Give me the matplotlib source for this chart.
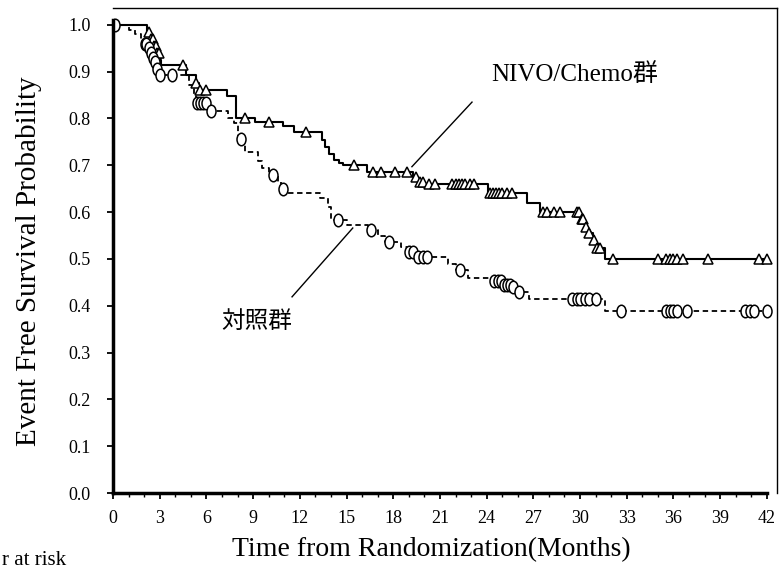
import numpy as np
import matplotlib
matplotlib.use("Agg")
import matplotlib.pyplot as plt
from matplotlib.path import Path
from matplotlib.transforms import Affine2D

plt.rcParams['font.family'] = ['Liberation Serif', 'Noto Sans CJK JP']

# Kaplan-Meier step points (time in months, survival)
nivo_t = [0, 2.2, 2.4, 2.6, 2.8, 3.0, 3.1, 4.7, 5.3, 5.5, 5.9, 7.3, 7.9, 9.1, 10.9, 11.6,
          13.4, 13.6, 13.9, 14.2, 14.5, 14.8, 16.3, 19.3, 19.6, 20.0, 24.1, 26.6, 27.4,
          30.0, 30.3, 30.5, 30.8, 31.0, 31.6]
nivo_s = [1.0, 0.985, 0.97, 0.955, 0.94, 0.925, 0.915, 0.893, 0.876, 0.861, 0.861, 0.848,
          0.80, 0.793, 0.785, 0.771, 0.755, 0.74, 0.725, 0.711, 0.705, 0.70, 0.686, 0.675,
          0.665, 0.66, 0.641, 0.62, 0.60, 0.585, 0.568, 0.555, 0.54, 0.523, 0.50]
nivo_cens = [2.3, 2.45, 2.55, 2.65, 2.75, 2.85, 2.95, 4.5, 5.3, 5.6, 6.0, 8.5, 10.0, 12.4,
             15.5, 16.7, 17.2, 18.1, 18.9, 19.45, 19.7, 19.9, 20.3, 20.7, 21.8, 22.0, 22.2,
             22.4, 22.6, 22.9, 23.2, 24.2, 24.4, 24.6, 24.8, 25.0, 25.3, 25.6, 27.6, 27.9,
             28.3, 28.7, 29.8, 29.95, 30.1, 30.2, 30.4, 30.6, 30.9, 31.1, 31.3, 32.1, 35.0,
             35.5, 35.8, 36.0, 36.2, 36.6, 38.2, 41.5, 42.0]

ctrl_t = [0, 1.0, 1.4, 1.8, 2.0, 2.2, 2.35, 2.5, 2.65, 2.8, 3.0, 4.9, 5.2, 5.3, 6.1, 7.4,
          7.8, 8.0, 8.5, 9.3, 9.6, 10.0, 10.6, 10.8, 11.2, 13.3, 13.8, 14.0, 15.0, 16.4,
          17.0, 17.5, 18.5, 18.9, 19.6, 21.5, 22.0, 22.8, 24.5, 25.0, 25.6, 26.0, 26.7, 31.6]
ctrl_s = [1.0, 0.99, 0.98, 0.97, 0.96, 0.95, 0.94, 0.93, 0.92, 0.905, 0.893, 0.872, 0.85,
          0.833, 0.816, 0.80, 0.79, 0.757, 0.728, 0.71, 0.695, 0.68, 0.665, 0.65, 0.641,
          0.63, 0.61, 0.583, 0.573, 0.562, 0.548, 0.536, 0.525, 0.515, 0.505, 0.49, 0.477,
          0.46, 0.452, 0.445, 0.44, 0.43, 0.415, 0.389]
ctrl_cens = [0.1, 2.05, 2.15, 2.3, 2.45, 2.55, 2.7, 2.85, 3.0, 3.8, 5.4, 5.6, 5.8, 6.0, 6.3,
             8.2, 10.3, 10.9, 14.45, 16.6, 17.7, 19.0, 19.3, 19.6, 19.9, 20.2, 22.3, 24.5,
             24.7, 24.9, 25.1, 25.3, 25.5, 25.7, 26.1, 29.5, 29.8, 30.0, 30.3, 30.6, 31.0,
             32.6, 35.5, 35.8, 36.0, 36.2, 36.9, 40.6, 40.9, 41.2, 42.0]

x_ticks = list(range(0, 43, 3))
y_ticks = [0.0, 0.1, 0.2, 0.3, 0.4, 0.5, 0.6, 0.7, 0.8, 0.9, 1.0]

# label leader lines: (time, survival) at both ends
nivo_leader = ([23.06, 19.2], [0.835, 0.697])
ctrl_leader = ([15.4, 11.5], [0.566, 0.419])


def km_at(times, surv, t):
    # survival value of the step curve at time t
    idx = np.searchsorted(times, t, side='right') - 1
    return np.asarray(surv)[idx]


fig = plt.figure(figsize=(7.79, 5.70), dpi=100)
ax = fig.add_axes([113 / 779, 1 - 493 / 570, 664 / 779, 485 / 570])

# curves run to the end of follow-up
end = 42.0
ax.step(nivo_t + [end], nivo_s + [nivo_s[-1]], where='post', color='black', lw=1.5)
ax.step(ctrl_t + [end], ctrl_s + [ctrl_s[-1]], where='post', color='black', lw=1.3,
        linestyle=(0, (3, 2)))

# tall ellipse for the censor circles
ell = Path.unit_circle().transformed(Affine2D().scale(0.72, 1.0))
ax.plot(nivo_cens, km_at(nivo_t, nivo_s, nivo_cens), linestyle='none', marker='^',
        ms=7.5, mfc='white', mec='black', mew=1.1)
ax.plot(ctrl_cens, km_at(ctrl_t, ctrl_s, ctrl_cens), linestyle='none', marker=ell,
        ms=9, mfc='white', mec='black', mew=1.1)

# group labels with leader lines
ax.plot(*nivo_leader, color='black', lw=1.0)
ax.plot(*ctrl_leader, color='black', lw=1.0)
ax.text(29.67, 0.893, 'NIVO/Chemo群', ha='center', va='center', fontsize=18)
ax.text(9.25, 0.365, '対照群', ha='center', va='center', fontsize=17)

ax.set_xlim(0, 42.65)
ax.set_ylim(0, 1.036)
ax.set_xticks(x_ticks)
ax.set_xticks(range(0, 43), minor=True)
ax.set_yticks(y_ticks)
ax.set_yticklabels([f'{v:.1f}' for v in y_ticks])

ax.spines['left'].set_linewidth(2.5)
ax.spines['bottom'].set_linewidth(2.5)
ax.spines['top'].set_linewidth(1.0)
ax.spines['right'].set_linewidth(1.0)
ax.spines['bottom'].set_bounds(0, 42)
ax.spines['left'].set_bounds(0, 1.01)

ax.tick_params(axis='both', which='major', direction='out', length=4, width=1.3,
               labelsize=13)
ax.tick_params(axis='x', which='major', pad=8)
ax.tick_params(axis='y', which='major', pad=12)
ax.tick_params(axis='x', which='minor', direction='out', length=3, width=1.0)

ax.set_xlabel('Time from Randomization(Months)', fontsize=20)
ax.xaxis.set_label_coords(0.48, -0.09)
ax.set_ylabel('Event Free Survival Probability', fontsize=21)
ax.yaxis.set_label_coords(-0.107, 0.478)

fig.text(2 / 779, 1 - 551 / 570, 'r at risk', ha='left', va='top', fontsize=15)

fig.savefig('out.png', dpi=100)
